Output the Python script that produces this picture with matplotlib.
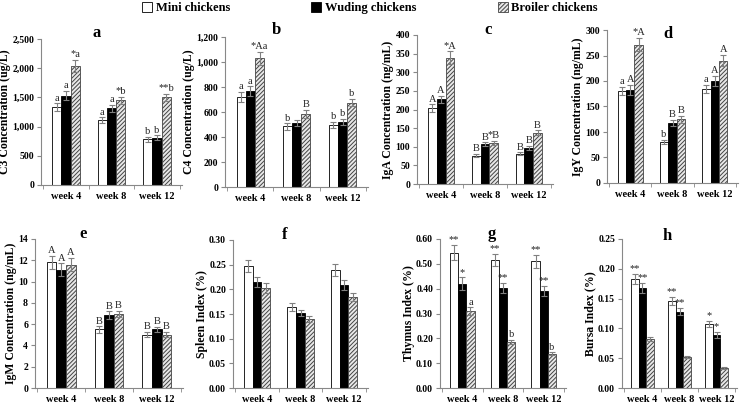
import matplotlib
matplotlib.use("Agg")
import matplotlib.pyplot as plt
from matplotlib.patches import Patch
from matplotlib.ticker import FuncFormatter
import numpy as np

plt.rcParams['font.family'] = ['Liberation Serif', 'DejaVu Serif']
plt.rcParams['hatch.linewidth'] = 0.7

weeks = ['week 4', 'week 8', 'week 12']
groups = ['Mini chickens', 'Wuding chickens', 'Broiler chickens']

# panel data: (mini, wuding, broiler) per week, with SEM
c3_mean = [[1330, 1530, 2040], [1110, 1310, 1450], [780, 810, 1500]]
c3_err = [[70, 80, 100], [50, 60, 60], [45, 40, 65]]
c3_lab = [['a', 'a', '*a'], ['a', 'a', '*b'], ['b', 'b', '**b']]

c4_mean = [[720, 765, 1030], [485, 510, 585], [495, 520, 675]]
c4_err = [[40, 40, 50], [25, 25, 30], [25, 25, 30]]
c4_lab = [['a', 'a', '*Aa'], ['b', '', 'B'], ['b', 'b', 'b']]

iga_mean = [[204, 227, 339], [76, 107, 111], [81, 97, 138]]
iga_err = [[10, 10, 17], [4, 5, 5], [4, 5, 6]]
iga_lab = [['A', 'A', '*A'], ['B', 'B', '*B'], ['B', 'B', 'B']]

igy_mean = [[180, 183, 271], [80, 118, 125], [184, 200, 240]]
igy_err = [[8, 10, 13], [4, 6, 7], [8, 10, 11]]
igy_lab = [['a', 'A', '*A'], ['b', 'B', 'B'], ['a', 'A', 'A']]

igm_mean = [[11.8, 11.1, 11.6], [5.5, 6.85, 6.95], [5.0, 5.5, 5.0]]
igm_err = [[0.6, 0.6, 0.6], [0.3, 0.35, 0.3], [0.25, 0.25, 0.25]]
igm_lab = [['A', 'A', 'A'], ['B', 'B', 'B'], ['B', 'B', 'B']]

spl_mean = [[0.248, 0.214, 0.202], [0.164, 0.152, 0.139], [0.240, 0.209, 0.185]]
spl_err = [[0.012, 0.010, 0.010], [0.008, 0.007, 0.006], [0.012, 0.010, 0.008]]
spl_lab = [['', '', ''], ['', '', ''], ['', '', '']]

thy_mean = [[0.545, 0.42, 0.31], [0.515, 0.402, 0.187], [0.51, 0.39, 0.137]]
thy_err = [[0.03, 0.025, 0.015], [0.025, 0.02, 0.008], [0.025, 0.02, 0.006]]
thy_lab = [['**', '*', 'a'], ['**', '**', 'b'], ['**', '**', 'b']]

bur_mean = [[0.183, 0.168, 0.082], [0.146, 0.128, 0.052], [0.107, 0.089, 0.034]]
bur_err = [[0.009, 0.008, 0.003], [0.007, 0.006, 0.002], [0.005, 0.005, 0.002]]
bur_lab = [['**', '**', ''], ['**', '**', ''], ['*', '*', '']]

W, H = 740, 403
fig = plt.figure(figsize=(W / 100, H / 100), dpi=100)


def px_axes(left, right, bottom, top):
    return fig.add_axes([left / W, (H - bottom) / H, (right - left) / W, (bottom - top) / H])


def panel(box, mean, err, lab, ymax, ystep, fmt, ylabel, title, tx, ty):
    ax = px_axes(*box)
    mean = np.array(mean)
    err = np.array(err)
    x = np.arange(3)
    bw = 0.2
    styles = [dict(color='white', edgecolor='black'),
              dict(color='black', edgecolor='black'),
              dict(color='#e8e8e8', edgecolor='#444444', hatch='////////')]
    for j in range(3):
        xs = x + (j - 1) * bw
        ax.bar(xs, mean[:, j], bw, linewidth=0.6, **styles[j])
        ax.errorbar(xs, mean[:, j], yerr=err[:, j], fmt='none', ecolor='#808080',
                    elinewidth=0.8, capsize=2.2, capthick=0.8)
        for i in range(3):
            if lab[i][j]:
                ax.text(xs[i], mean[i, j] + err[i, j] + ymax * 0.005, lab[i][j],
                        ha='center', va='bottom', fontsize=7.5, color='#222222')
    ax.set_xlim(-0.55, 2.55)
    ax.set_ylim(0, ymax)
    ax.set_yticks(np.arange(0, ymax + ystep / 2, ystep))
    ax.yaxis.set_major_formatter(FuncFormatter(fmt))
    ax.set_xticks(x)
    ax.set_xticklabels(weeks, fontsize=7.5, fontweight='bold')
    ax.set_xticks([-0.5, 0.5, 1.5, 2.5], minor=True)
    ax.tick_params(axis='x', which='major', length=0, pad=5)
    ax.tick_params(axis='x', which='minor', length=3, color='#888888', direction='out')
    ax.tick_params(axis='y', length=3, color='#888888', labelsize=7, pad=2)
    for t in ax.get_yticklabels():
        t.set_fontweight('bold')
    for s in ['top', 'right']:
        ax.spines[s].set_visible(False)
    for s in ['left', 'bottom']:
        ax.spines[s].set_color('#888888')
        ax.spines[s].set_linewidth(0.8)
    ax.set_ylabel(ylabel, fontsize=8.5, fontweight='bold', labelpad=1)
    fig.text(tx / W, (H - ty) / H, title, fontsize=12, fontweight='bold',
             ha='center', va='center')
    return ax


comma = lambda v, p: f'{int(v):,}'
intf = lambda v, p: f'{int(v)}'
f2 = lambda v, p: f'{v:.2f}'

panel((41, 182, 185, 39), c3_mean, c3_err, c3_lab, 2500, 500, comma,
      'C3 Concentration (ug/L)', 'a', 97, 33)
panel((225, 368, 187, 37), c4_mean, c4_err, c4_lab, 1200, 200, comma,
      'C4 Concentration (ug/L)', 'b', 276, 30)
panel((417, 553, 184, 35), iga_mean, iga_err, iga_lab, 400, 50, intf,
      'IgA Concentration (ng/mL)', 'c', 488, 30)
panel((607, 738, 183, 30), igy_mean, igy_err, igy_lab, 300, 50, intf,
      'IgY Concentration (ng/mL)', 'd', 668, 34)
panel((35, 183, 388, 239), igm_mean, igm_err, igm_lab, 14, 2, intf,
      'IgM Concentration (ng/mL)', 'e', 83, 234)
panel((233, 368, 388, 240), spl_mean, spl_err, spl_lab, 0.30, 0.05, f2,
      'Spleen Index (%)', 'f', 285, 235)
panel((440, 566, 388, 239), thy_mean, thy_err, thy_lab, 0.60, 0.10, f2,
      'Thymus Index (%)', 'g', 492, 234)
panel((622, 737, 388, 239), bur_mean, bur_err, bur_lab, 0.25, 0.05, f2,
      'Bursa Index (%)', 'h', 667, 236)

handles = [Patch(facecolor='white', edgecolor='black', linewidth=0.6),
           Patch(facecolor='black', edgecolor='black', linewidth=0.6),
           Patch(facecolor='#e8e8e8', edgecolor='#444444', hatch='////////', linewidth=0.6)]
fig.legend(handles, groups, loc='center', bbox_to_anchor=(0.5, (H - 8) / H), ncol=3,
           frameon=False, prop={'weight': 'bold', 'size': 9}, handlelength=0.8,
           handleheight=0.8, handletextpad=0.3, columnspacing=6.5)

fig.savefig('out.png', dpi=100)
